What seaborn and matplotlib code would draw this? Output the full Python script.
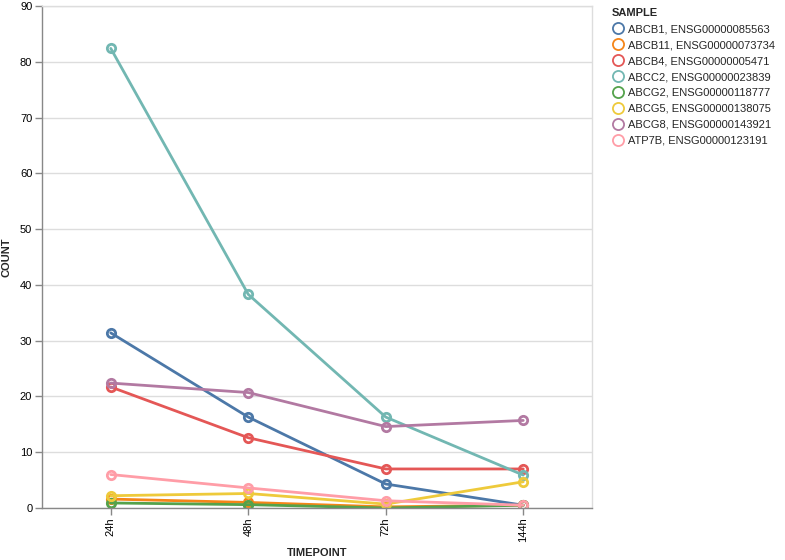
import matplotlib
matplotlib.use("Agg")
import matplotlib.pyplot as plt
from matplotlib.lines import Line2D
import seaborn as sns
import pandas as pd

timepoints = ["24h", "48h", "72h", "144h"]
samples = [
    "ABCB1, ENSG00000085563",
    "ABCB11, ENSG00000073734",
    "ABCB4, ENSG00000005471",
    "ABCC2, ENSG00000023839",
    "ABCG2, ENSG00000118777",
    "ABCG5, ENSG00000138075",
    "ABCG8, ENSG00000143921",
    "ATP7B, ENSG00000123191",
]
abcb1 = [31.4, 16.3, 4.3, 0.5]
abcb11 = [1.6, 1.0, 0.2, 0.5]
abcb4 = [21.7, 12.6, 7.0, 7.0]
abcc2 = [82.4, 38.3, 16.3, 5.9]
abcg2 = [0.9, 0.6, 0.0, 0.5]
abcg5 = [2.2, 2.6, 0.7, 4.7]
abcg8 = [22.4, 20.7, 14.6, 15.7]
atp7b = [6.0, 3.6, 1.3, 0.5]
values = [abcb1, abcb11, abcb4, abcc2, abcg2, abcg5, abcg8, atp7b]
colors = ["#4c78a8", "#f58518", "#e45756", "#72b7b2", "#54a24b", "#eeca3b", "#b279a2", "#ff9da7"]

rows = []
for s, vals in zip(samples, values):
    for t, v in zip(timepoints, vals):
        rows.append({"SAMPLE": s, "TIMEPOINT": t, "COUNT": v})
df = pd.DataFrame(rows)

sns.set_theme(style="white")
plt.rcParams['font.family'] = ['Liberation Sans', 'DejaVu Sans']

fig = plt.figure(figsize=(7.85, 5.6), dpi=100)
ax = fig.add_axes([42/785, 1 - 508/560, 550/785, 502/560])

palette = dict(zip(samples, colors))
sns.lineplot(data=df, x="TIMEPOINT", y="COUNT", hue="SAMPLE", palette=palette,
             hue_order=samples, sort=False, marker="o", markersize=6,
             markerfacecolor="none", markeredgewidth=2, linewidth=2,
             ax=ax, legend=False)
for line in ax.lines:
    line.set_markeredgecolor(line.get_color())
    line.set_markerfacecolor("none")

ax.set_xlim(-0.5, 3.5)
ax.set_ylim(0, 90)
ax.set_yticks(range(0, 91, 10))
ax.set_xticks(range(4))
ax.set_xticklabels(timepoints, rotation=90)
ax.yaxis.grid(True, color="#dddddd", linewidth=1)
ax.set_axisbelow(True)
for side in ["top", "right"]:
    ax.spines[side].set_color("#dddddd")
    ax.spines[side].set_linewidth(1)
for side in ["left", "bottom"]:
    ax.spines[side].set_color("#888888")
    ax.spines[side].set_linewidth(1)
ax.tick_params(axis="both", which="both", length=5, width=1, color="#888888",
               labelsize=8, labelcolor="#000000", direction="out", pad=2,
               left=True, bottom=True)
ax.set_xlabel("TIMEPOINT", fontsize=8, fontweight="bold", labelpad=4)
ax.set_ylabel("COUNT", fontsize=8, fontweight="bold", labelpad=6)

handles = [Line2D([0], [0], linestyle="none", marker="o", markersize=8,
                  markerfacecolor="none", markeredgecolor=c, markeredgewidth=1.3)
           for c in colors]
leg = fig.legend(handles, samples, title="SAMPLE", loc="upper left",
                 bbox_to_anchor=(607/785, 1 - 4/560), frameon=False,
                 fontsize=8, title_fontproperties={"weight": "bold", "size": 8},
                 handletextpad=0.4, labelspacing=0.53, borderaxespad=0,
                 handlelength=1.1)
leg._legend_box.align = "left"

fig.savefig("out.png", dpi=100)
